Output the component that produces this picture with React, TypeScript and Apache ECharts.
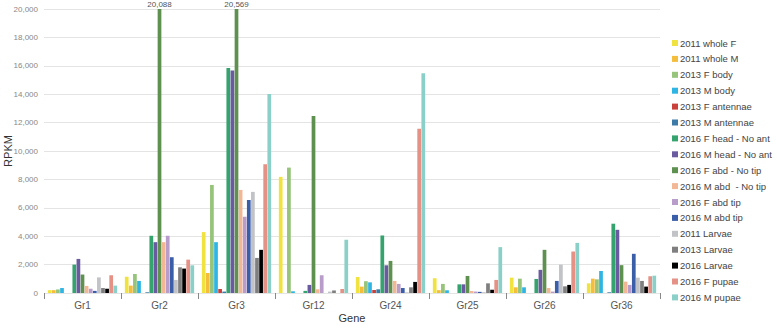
import React, { useEffect, useRef } from "react";
import * as echarts from "echarts";

const genes = ["Gr1", "Gr2", "Gr3", "Gr12", "Gr24", "Gr25", "Gr26", "Gr36"];
const yTicks = [0, 2000, 4000, 6000, 8000, 10000, 12000, 14000, 16000, 18000, 20000];

const whole2011F = [200, 1150, 4290, 8180, 1130, 1040, 1080, 680];
const whole2011M = [200, 520, 1410, 0, 450, 200, 400, 1010];
const body2013F = [250, 1340, 7610, 8830, 830, 640, 1010, 960];
const body2013M = [350, 850, 3580, 120, 750, 190, 400, 1550];
const antennae2013F = [0, 0, 280, 0, 210, 0, 0, 0];
const antennae2013M = [0, 50, 100, 0, 260, 0, 0, 50];
const headF2016 = [2000, 4030, 15850, 150, 4050, 610, 990, 4880];
const headM2016 = [2400, 3580, 15670, 570, 1950, 610, 1630, 4450];
const abdF2016 = [1300, 20088, 20569, 12460, 2260, 1200, 3040, 1960];
const abdM2016 = [500, 3580, 7260, 260, 850, 140, 350, 800];
const abdTipF2016 = [300, 4030, 5370, 1250, 640, 100, 100, 570];
const abdTipM2016 = [150, 2520, 6550, 0, 350, 80, 850, 2760];
const larvae2011 = [1100, 920, 7120, 100, 50, 60, 2000, 1080];
const larvae2013 = [350, 1810, 2470, 180, 400, 680, 470, 850];
const larvae2016 = [300, 1720, 3040, 0, 780, 230, 570, 450];
const pupaeF2016 = [1250, 2350, 9070, 280, 11570, 920, 2920, 1180];
const pupaeM2016 = [520, 1950, 14020, 3750, 15480, 3230, 3530, 1220];

const seriesNames = [
  "2011 whole F",
  "2011 whole M",
  "2013 F body",
  "2013 M body",
  "2013 F antennae",
  "2013 M antennae",
  "2016 F head - No ant",
  "2016 M head - No ant",
  "2016 F abd - No tip",
  "2016 M abd  - No tip",
  "2016 F abd tip",
  "2016 M abd tip",
  "2011 Larvae",
  "2013 Larvae",
  "2016 Larvae",
  "2016 F pupae",
  "2016 M pupae",
];
const seriesValues = [
  whole2011F, whole2011M, body2013F, body2013M, antennae2013F, antennae2013M,
  headF2016, headM2016, abdF2016, abdM2016, abdTipF2016, abdTipM2016,
  larvae2011, larvae2013, larvae2016, pupaeF2016, pupaeM2016,
];
const colors = [
  "#f1e33f", "#f4bd3c", "#95c47a", "#2fb5e3", "#c9413a", "#3c7ba7",
  "#35a36e", "#6a5ba0", "#5e9150", "#f2b896", "#b89cc9", "#3a5ea8",
  "#c2c3c7", "#7f7f80", "#000000", "#e59186", "#8bd0c8",
];

const Y_MAX = yTicks[yTicks.length - 1];
const FONT = "'Liberation Sans', Arial, sans-serif";
const fmt = (v: number) => v.toLocaleString("en-US");

export default function App() {
  const ref = useRef<HTMLDivElement>(null);
  useEffect(() => {
    document.body.style.margin = "0";
    document.body.style.overflow = "hidden";
    if (!ref.current) return;
    const chart = echarts.init(ref.current, null, { renderer: "svg" });
    chart.setOption({
      animation: false,
      color: colors,
      textStyle: { fontFamily: FONT },
      grid: { left: 44, right: 118, top: 9, bottom: 31, outerBoundsMode: "none", containLabel: false },
      legend: {
        orient: "vertical",
        left: 667,
        top: 32,
        itemWidth: 6,
        itemHeight: 6,
        itemGap: 3.9,
        icon: "rect",
        data: seriesNames,
        textStyle: { fontSize: 9.5, color: "#444", fontFamily: FONT, padding: [0, 0, 0, -3], lineHeight: 12 },
      },
      xAxis: {
        type: "category",
        data: genes,
        name: "Gene",
        nameLocation: "middle",
        nameGap: 19,
        nameMoveOverlap: false,
        nameTextStyle: { fontSize: 11, color: "#333" },
        axisLine: { show: false },
        axisTick: { show: true, length: 6, lineStyle: { color: "#888" } },
        axisLabel: { fontSize: 10, color: "#555", margin: 7 },
      },
      yAxis: {
        type: "value",
        min: 0,
        max: Y_MAX,
        interval: 2000,
        name: "RPKM",
        nameLocation: "middle",
        nameGap: 31,
        nameMoveOverlap: false,
        nameTextStyle: { fontSize: 11, color: "#333" },
        axisLine: { show: false },
        axisTick: { show: false },
        axisLabel: { fontSize: 8, color: "#888", margin: 6, formatter: (v: number) => fmt(v) },
        splitLine: { lineStyle: { color: "#e4e4e4" } },
      },
      series: seriesNames.map((name, i) => ({
        name,
        type: "bar",
        barGap: "10%",
        barCategoryGap: "10%",
        clip: true,
        data: seriesValues[i].map((v) =>
          v > Y_MAX
            ? {
                value: v,
                label: {
                  show: true,
                  position: "top",
                  distance: 1,
                  fontSize: 8,
                  color: "#555",
                  formatter: () => fmt(v),
                },
              }
            : v
        ),
      })),
    });
    return () => chart.dispose();
  }, []);
  return <div ref={ref} style={{ width: 778, height: 324 }} />;
}
